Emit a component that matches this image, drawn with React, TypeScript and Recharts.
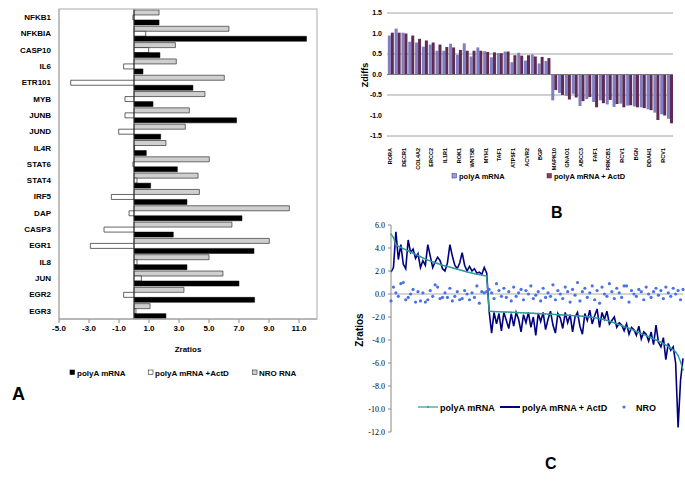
import React from 'react';
import { BarChart, Bar, XAxis, YAxis, ReferenceLine, CartesianGrid, ComposedChart, Line } from 'recharts';

// ---------- Panel A ----------
const genesA = ['NFKB1', 'NFKBIA', 'CASP10', 'IL6', 'ETR101', 'MYB', 'JUNB', 'JUND', 'IL4R', 'STAT6', 'STAT4', 'IRF5', 'DAP', 'CASP3', 'EGR1', 'IL8', 'JUN', 'EGR2', 'EGR3'];
const polyA_A = [1.67, 11.5, 1.73, 0.6, 3.93, 1.27, 6.84, 1.78, 0.82, 2.89, 1.11, 3.53, 7.2, 2.62, 8.0, 3.53, 7.0, 8.04, 2.13];
const actD_A = [-0.07, 0.78, 0.98, -0.69, -4.22, -0.6, -0.6, -1.02, 0.04, -0.07, 0.2, -1.51, -0.33, -2.0, -2.91, 0.2, 0.49, -0.69, 0.13];
const nro_A = [1.67, 6.33, 2.76, 2.82, 6.02, 4.73, 3.69, 3.42, 2.13, 5.02, 4.27, 4.36, 10.36, 6.53, 9.02, 5.0, 5.93, 3.33, 1.07];
const ticksA = [-5, -3, -1, 1, 3, 5, 7, 9, 11];

// ---------- Panel B ----------
const labelsB = ['RORA', '', 'DECR1', '', 'COL4A2', '', 'ERCC2', '', 'IL1R1', '', 'ROK1', '', 'WNT5B', '', 'MYH1', '', 'TAF1', '', 'ATP5F1', '', 'ACVR2', '', 'BGP', '', 'MAPK10', '', 'GNAO1', '', 'ABCC3', '', 'FAF1', '', 'PRKCB1', '', 'RCV1', '', 'BGN', '', 'DDAH1', '', 'RCV1', ''];
const polyA_B = [0.95, 1.12, 1.02, 0.80, 0.78, 0.68, 0.73, 0.58, 0.58, 0.75, 0.48, 0.76, 0.44, 0.66, 0.57, 0.42, 0.52, 0.56, 0.30, 0.53, 0.34, 0.49, 0.27, 0.33,
  -0.63, -0.45, -0.52, -0.47, -0.77, -0.60, -0.67, -0.63, -0.73, -0.79, -0.71, -0.76, -0.78, -0.80, -0.85, -0.93, -0.97, -1.08];
const actD_B = [1.02, 1.02, 1.00, 0.95, 0.87, 0.83, 0.78, 0.73, 0.67, 0.66, 0.60, 0.58, 0.58, 0.58, 0.55, 0.54, 0.52, 0.56, 0.47, 0.46, 0.47, 0.44, 0.43, 0.40,
  -0.38, -0.50, -0.61, -0.56, -0.65, -0.55, -0.80, -0.70, -0.62, -0.72, -0.80, -0.75, -0.80, -0.82, -0.87, -1.11, -1.00, -1.19];
const ticksB = [-1.5, -1, -0.5, 0, 0.5, 1, 1.5];

// ---------- Panel C ----------
const polyA_C = [
  5.2, 4.9, 4.3, 4.15, 4.05, 3.95, 3.85, 3.75, 3.65, 3.55,
  3.45, 3.35, 3.25, 3.15, 3.05, 2.95, 2.88, 2.8, 2.72, 2.65,
  2.58, 2.5, 2.45, 2.4, 2.34, 2.28, 2.22, 2.16, 2.1, 2.04,
  1.98, 1.92, 1.87, 1.82, 1.77, 1.72, 1.68, 1.64, 1.6, 1.56,
  -1.50, -1.51, -1.52, -1.53, -1.54, -1.55, -1.56, -1.57, -1.58, -1.59,
  -1.60, -1.61, -1.62, -1.63, -1.64, -1.65, -1.66, -1.67, -1.68, -1.69,
  -1.70, -1.71, -1.72, -1.73, -1.75, -1.76, -1.77, -1.78, -1.80, -1.81,
  -1.82, -1.84, -1.85, -1.86, -1.88, -1.89, -1.91, -1.92, -1.94, -1.96,
  -1.98, -2.00, -2.03, -2.06, -2.10, -2.14, -2.19, -2.24, -2.30, -2.37,
  -2.44, -2.51, -2.58, -2.66, -2.74, -2.82, -2.90, -2.99, -3.08, -3.17,
  -3.26, -3.35, -3.44, -3.53, -3.62, -3.71, -3.80, -3.90, -4.00, -4.10,
  -4.20, -4.32, -4.44, -4.56, -4.70, -4.85, -5.05, -5.35, -5.90, -6.60,
];
const actD_C = [
  1.9, 2.3, 5.4, 3.0, 4.3, 2.6, 2.2, 4.7, 3.6, 3.9,
  3.1, 3.5, 2.3, 2.9, 2.5, 4.3, 3.3, 2.3, 2.8, 3.2,
  2.9, 2.2, 2.0, 2.7, 4.3, 3.3, 2.5, 2.2, 2.7, 3.6,
  2.5, 2.0, 2.4, 2.0, 2.2, 1.8, 1.9, 1.7, 2.3, 1.8,
  -1.5, -3.4, -1.6, -2.6, -1.7, -3.2, -1.6, -2.3, -3.0, -1.7,
  -2.8, -1.6, -2.2, -3.3, -1.8, -2.5, -1.6, -2.9, -2.0, -3.6,
  -1.7, -2.4, -1.6, -3.1, -2.2, -1.5, -2.7, -3.4, -1.7, -2.1,
  -3.0, -1.6, -2.5, -1.8, -3.3, -2.0, -1.6, -2.8, -3.5, -1.7,
  -2.3, -1.4, -2.6, -1.9, -1.3, -2.9, -1.6, -2.2, -1.5, -2.6,
  -2.3, -2.0, -2.9, -2.5, -2.7, -3.2, -2.6, -3.5, -2.9, -3.1,
  -3.6, -2.8, -3.9, -3.3, -3.5, -4.1, -3.3, -4.4, -2.7, -4.2,
  -4.6, -3.8, -5.7, -4.3, -4.9, -4.6, -6.0, -11.6, -7.5, -5.6,
];
const nro_C = [
  -0.6, 0.6, 0.1, -0.2, 0.9, 1.0, -0.5, -0.3, 0.0, 0.4,
  -0.7, 0.2, -0.6, 0.1, -0.7, -0.5, 0.3, -0.2, 0.8, 0.6,
  -0.4, -0.3, 0.1, -0.3, 0.5, -0.6, -0.2, 0.2, -0.5, -0.4,
  0.3, 0.0, -0.5, 0.1, -0.3, 0.7, -0.8, 0.2, 0.1, 0.2,
  0.4, 0.1, -0.4, 0.9, 0.3, -0.2, 0.5, -0.3, 0.2, -0.6,
  0.6, -0.2, 0.1, 0.4, -0.5, 0.3, 0.0, 0.7, -0.4, -0.1,
  0.2, -0.6, 0.5, -0.3, 0.1, -0.2, 0.8, -0.5, 0.3, 0.0,
  -0.4, 0.6, 0.2, -0.7, 0.4, -0.1, 1.0, -0.6, 0.2, 0.5,
  -0.3, 0.1, 0.7, -0.5, 0.3, -0.8, 0.6, 0.0, -0.2, 0.9,
  0.2, -0.4, 0.5, 0.1, -0.3, 0.7, 0.7, -0.7, 0.3, 0.0,
  -0.2, 0.4, 0.2, -0.5, 0.6, 0.0, -0.3, 0.2, 0.5, -0.1,
  0.3, -0.4, 0.6, 0.1, -0.2, 0.5, 0.0, 0.3, -0.5, 0.4,
];
const ticksC = [-12, -10, -8, -6, -4, -2, 0, 2, 4, 6];

const dataA = genesA.map((g, i) => ({ gene: g, polyA: polyA_A[i], actD: actD_A[i], nro: nro_A[i] }));
const dataB = labelsB.map((l, i) => ({ idx: i, polyA: polyA_B[i], actD: actD_B[i] }));
const dataC = polyA_C.map((v, i) => ({ i, polyA: v, actD: actD_C[i], nro: nro_C[i] }));

const SANS = 'Liberation Sans, Arial, sans-serif';
const SERIF = 'Liberation Serif, Times New Roman, serif';

const COL_B1 = '#7f7fc4';
const COL_B2 = '#5f2b52';
const TEAL = '#2f9a96';
const NAVY = '#000080';
const NROBLUE = '#4a72e6';

function RotTick(props: any) {
  const { x, y, payload } = props;
  const label = labelsB[payload.value];
  if (!label) return null;
  return (
    <text x={x + 2} y={y + 4} transform={`rotate(-90 ${x + 2} ${y + 4})`} textAnchor="end"
      fontSize={5.5} fontWeight="bold" fontFamily={SANS} fill="#000">{label}</text>
  );
}

export default function App() {
  return (
    <div style={{ position: 'absolute', left: 0, top: 0, width: 685, height: 482, background: '#fff', overflow: 'hidden' }}>
      {/* Panel A */}
      <div style={{ position: 'absolute', left: 0, top: 0 }}>
        <BarChart layout="vertical" data={dataA} width={330} height={350}
          margin={{ top: 9, right: 13, bottom: 11, left: 0 }} barCategoryGap="6%" barGap={0}>
          <XAxis type="number" domain={[-5, 12.2]} ticks={ticksA} allowDataOverflow height={20}
            tickFormatter={(v: number) => v.toFixed(1)} stroke="#888" tickSize={4}
            tick={{ fontSize: 8, fontWeight: 'bold', fill: '#000', fontFamily: SANS }} />
          <YAxis type="category" dataKey="gene" width={59} interval={0} tickLine={false}
            axisLine={{ stroke: '#aaa' }} tick={{ fontSize: 8, fontWeight: 'bold', fill: '#000', fontFamily: SANS }} />
          <Bar dataKey="nro" fill="#cfcfcf" stroke="#333" strokeWidth={0.7} isAnimationActive={false} />
          <Bar dataKey="actD" fill="#ffffff" stroke="#222" strokeWidth={0.7} isAnimationActive={false} />
          <Bar dataKey="polyA" fill="#000000" stroke="#000" strokeWidth={0.5} isAnimationActive={false} />
          <ReferenceLine x={0} stroke="#333" strokeWidth={1} />
        </BarChart>
      </div>

      {/* Panel B */}
      <div style={{ position: 'absolute', left: 340, top: 0 }}>
        <BarChart data={dataB} width={340} height={170}
          margin={{ top: 13, right: 7, bottom: 4, left: 0 }} barCategoryGap="12%" barGap={0}>
          <CartesianGrid vertical={false} stroke="#a0a0a0" />
          <XAxis dataKey="idx" type="category" interval={0} height={30} axisLine={false} tickLine={false}
            tick={<RotTick />} />
          <YAxis domain={[-1.5, 1.5]} ticks={ticksB} width={47} axisLine={false} tickLine={false}
            tickSize={0} tickMargin={5} tickFormatter={(v: number) => v.toFixed(1)}
            tick={{ fontSize: 7, fontWeight: 'bold', fill: '#000', fontFamily: SANS }} />
          <ReferenceLine y={0} stroke="#777" />
          <Bar dataKey="polyA" fill={COL_B1} isAnimationActive={false} />
          <Bar dataKey="actD" fill={COL_B2} isAnimationActive={false} />
        </BarChart>
      </div>

      {/* Panel C */}
      <div style={{ position: 'absolute', left: 340, top: 215 }}>
        <ComposedChart data={dataC} width={345} height={222} margin={{ top: 10, right: 2, bottom: 5, left: 0 }}>
          <XAxis dataKey="i" type="number" domain={[0, 119]} hide />
          <YAxis domain={[-12, 6]} ticks={ticksC} width={51} stroke="#888" tickSize={3} tickMargin={3}
            tickFormatter={(v: number) => v.toFixed(1)}
            tick={{ fontSize: 8, fill: '#000', fontFamily: SERIF }} />
          <ReferenceLine y={0} stroke="#aaa" />
          <Line dataKey="nro" stroke="none" isAnimationActive={false}
            dot={{ r: 1.6, fill: NROBLUE, stroke: 'none' }} activeDot={false} />
          <Line dataKey="actD" stroke={NAVY} strokeWidth={1.6} dot={false} isAnimationActive={false} />
          <Line dataKey="polyA" stroke={TEAL} strokeWidth={1.4} isAnimationActive={false}
            dot={{ r: 0.8, fill: TEAL, stroke: 'none' }} />
        </ComposedChart>
      </div>

      {/* Text overlay: titles, legends, panel letters */}
      <svg width={685} height={482} style={{ position: 'absolute', left: 0, top: 0, pointerEvents: 'none' }}>
        {/* A frame top/right */}
        <rect x={59} y={9} width={258} height={310} fill="none" stroke="#aaa" strokeWidth={1} />
        <text x={188} y={352} textAnchor="middle" fontSize={8} fontWeight="bold" fontFamily={SANS}>Zratios</text>
        <rect x={70} y={370} width={4.5} height={4.5} fill="#000" stroke="#000" strokeWidth={0.6} />
        <text x={77} y={376} fontSize={8} fontWeight="bold" fontFamily={SANS}>polyA mRNA</text>
        <rect x={148.5} y={370} width={4.5} height={4.5} fill="#fff" stroke="#333" strokeWidth={0.6} />
        <text x={155} y={376} fontSize={8} fontWeight="bold" fontFamily={SANS}>polyA mRNA +ActD</text>
        <rect x={252.5} y={370} width={4.5} height={4.5} fill="#cfcfcf" stroke="#333" strokeWidth={0.6} />
        <text x={259} y={376} fontSize={8} fontWeight="bold" fontFamily={SANS}>NRO RNA</text>
        <text x={12} y={400} fontSize={18} fontWeight="bold" fontFamily={SANS}>A</text>

        {/* B */}
        <text x={366} y={75} transform="rotate(-90 366 75)" textAnchor="middle" dominantBaseline="middle"
          fontSize={9} fontWeight="bold" fontFamily={SANS}>Zdiffs</text>
        <rect x={452} y={173.5} width={4.5} height={4.5} fill="#9999ff" stroke="#333" strokeWidth={0.5} />
        <text x={459} y={179} fontSize={7.5} fontWeight="bold" fontFamily={SANS}>polyA mRNA</text>
        <rect x={547} y={173.5} width={4.5} height={4.5} fill="#993366" stroke="#333" strokeWidth={0.5} />
        <text x={554} y={179} fontSize={7.5} fontWeight="bold" fontFamily={SANS}>polyA mRNA + ActD</text>
        <text x={551} y={218} fontSize={16} fontWeight="bold" fontFamily={SANS}>B</text>

        {/* C */}
        <text x={360} y={330} transform="rotate(-90 360 330)" textAnchor="middle" dominantBaseline="middle"
          fontSize={10} fontWeight="bold" fontFamily={SANS}>Zratios</text>
        <line x1={418} y1={407} x2={438} y2={407} stroke={TEAL} strokeWidth={1.2} />
        <circle cx={428} cy={407} r={1} fill={TEAL} />
        <text x={440} y={410.5} fontSize={9} fontWeight="bold" fontFamily={SANS}>polyA mRNA</text>
        <line x1={500} y1={407} x2={520} y2={407} stroke={NAVY} strokeWidth={2} />
        <text x={522} y={410.5} fontSize={9} fontWeight="bold" fontFamily={SANS}>polyA mRNA + ActD</text>
        <circle cx={624} cy={407} r={1.6} fill={NROBLUE} />
        <text x={636} y={410.5} fontSize={9} fontWeight="bold" fontFamily={SANS}>NRO</text>
        <text x={545} y={469} fontSize={16} fontWeight="bold" fontFamily={SANS}>C</text>
      </svg>
    </div>
  );
}
